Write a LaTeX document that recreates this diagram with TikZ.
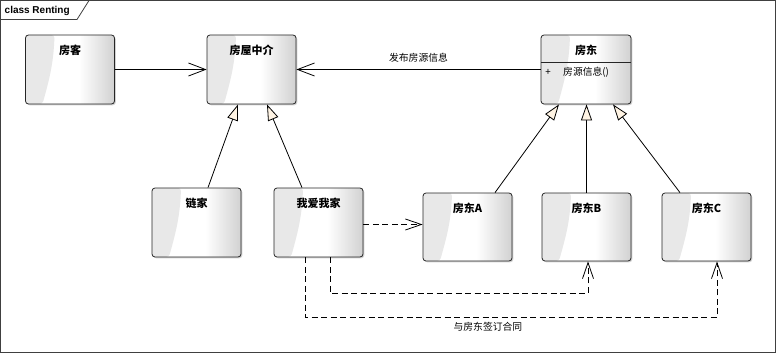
\documentclass[tikz,border=0pt]{standalone}
\usepackage{fontspec}
\setmainfont{Liberation Sans}
\newfontfamily\cjk{Noto Sans CJK SC}
\usetikzlibrary{arrows.meta,shadows}
\definecolor{cream}{RGB}{255,244,228}
\pgfdeclarehorizontalshading{boxsh}{100bp}{color(0bp)=(white); color(25bp)=(white); color(55bp)=(white); color(75bp)=(black!18); color(100bp)=(black!18)}
\tikzset{
  cls/.style={draw=black!85, line width=0.8pt, rounded corners=3pt,
    minimum width=89pt, minimum height=69pt, inner sep=0pt,
    shading=boxsh,
    drop shadow={shadow xshift=1.3pt, shadow yshift=-1.3pt, fill=black!35, opacity=0.5},
    path picture={\fill[black!9] (path picture bounding box.north west) -- ([xshift=29pt]path picture bounding box.north west)
      .. controls +(-1pt,-30pt) and +(6pt,22pt) .. ([xshift=17pt]path picture bounding box.south west)
      -- (path picture bounding box.south west) -- cycle;}},
  ttl/.style={anchor=center, yshift=-16pt, font=\cjk\bfseries\fontsize{11}{13}\selectfont},
  lbl/.style={font=\cjk\fontsize{9.8}{12}\selectfont, inner sep=1pt},
  assoc/.style={line width=0.8pt, -{Straight Barb[length=17pt,width=13pt]}},
  inh/.style={line width=0.8pt, -{Triangle[open, length=16pt, width=11pt, fill=cream]}},
  dep/.style={line width=0.8pt, dash pattern=on 6pt off 3.5pt, -{Straight Barb[length=16pt,width=11pt]}}
}
\begin{document}
\begin{tikzpicture}[x=1pt,y=-1pt]
\useasboundingbox (0,0) rectangle (776,353);
\fill[white] (0,0) rectangle (776,353);
% frame
\draw[line width=0.8pt, black!75] (0.5,0.5) rectangle (775.5,352.5);
\draw[line width=0.8pt, black!75] (0.5,19.5) -- (77,19.5) -- (89,0.5);
\node[anchor=west, font=\bfseries\fontsize{10}{12}\selectfont, inner sep=0pt] (frametitle) at (4.5,10.5) {class Renting};
% classes
\node[cls, label={[ttl]north:房客}] (kehu) at (70,69.5) {};
\node[cls, label={[ttl]north:房屋中介}] (zhongjie) at (251.5,69.5) {};
\node[cls, minimum width=90pt, label={[ttl]north:房东}] (fangdong) at (586,69.5) {};
\node[cls, label={[ttl]north:链家}] (lianjia) at (196.5,222.5) {};
\node[cls, label={[ttl]north:我爱我家}] (woai) at (318.5,222.5) {};
\node[cls, minimum height=68pt, label={[ttl]north:房东A}] (fdA) at (467.5,227) {};
\node[cls, minimum height=68pt, label={[ttl]north:房东B}] (fdB) at (586.5,227) {};
\node[cls, minimum height=68pt, label={[ttl]north:房东C}] (fdC) at (706.5,227) {};
% attribute compartment
\draw[line width=0.8pt, black!85] (fangdong.west |- 0,62) -- (fangdong.east |- 0,62);
\node[lbl, anchor=center] (plus) at (548,72) {+};
\node[lbl, anchor=west] (attr) at (562,72) {房源信息()};
% associations
\draw[assoc] (kehu.east) -- (zhongjie.west);
\draw[assoc] (fangdong.west) -- node[lbl, above=6pt] {发布房源信息} (zhongjie.east);
% inheritance
\draw[inh] ([xshift=11.5pt]lianjia.north) -- ([xshift=-13.5pt]zhongjie.south);
\draw[inh] ([xshift=-16.5pt]woai.north) -- ([xshift=15.5pt]zhongjie.south);
\draw[inh] ([xshift=27.5pt]fdA.north) -- ([xshift=-27pt]fangdong.south);
\draw[inh] (fdB.north) -- (fdB.north |- fangdong.south);
\draw[inh] ([xshift=-26.5pt]fdC.north) -- ([xshift=27pt]fangdong.south);
% dependencies
\draw[dep] ([yshift=-2pt]woai.east) -- ([yshift=2.5pt]fdA.west);
\draw[dep] ([xshift=11.5pt]woai.south) -- ++(0,36) -| ([xshift=1.5pt]fdB.south);
\draw[dep] ([xshift=-13.5pt]woai.south) -- ++(0,60) -| node[lbl, pos=0.222, below=3pt] {与房东签订合同} ([xshift=10.5pt]fdC.south);
\end{tikzpicture}
\end{document}
